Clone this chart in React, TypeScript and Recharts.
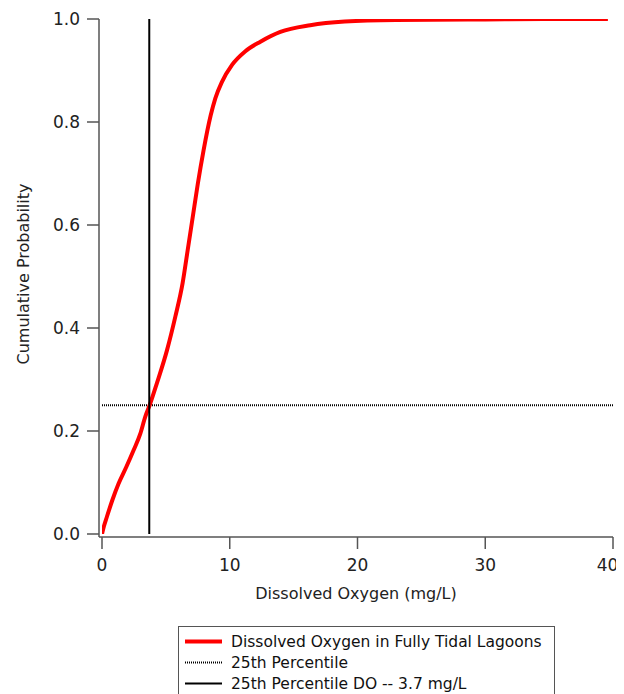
import React from 'react';
import { ComposedChart, Line, XAxis, YAxis, Legend, Label } from 'recharts';

// Cumulative distribution of dissolved oxygen (mg/L) in fully tidal lagoons
const doValues = [0, 0.15, 0.39, 0.8, 1.3, 1.9, 2.48, 3.0, 3.39, 3.73, 4.3, 5.09, 5.74, 6.31, 6.7, 7.1, 7.5, 7.95, 8.5, 8.87, 9.39, 10.18, 11.2, 12.4, 13.96, 16.3, 19, 23, 30, 35, 39.6];
const cumProb = [0, 0.015, 0.034, 0.065, 0.098, 0.13, 0.163, 0.195, 0.228, 0.25, 0.293, 0.357, 0.422, 0.487, 0.55, 0.615, 0.68, 0.745, 0.812, 0.846, 0.878, 0.911, 0.937, 0.956, 0.975, 0.988, 0.995, 0.998, 0.999, 1.0, 1.0];

const percentileLevel = 0.25;
const percentileDO = 3.7;
const xRange = [0, 40];
const xTicks = [0, 10, 20, 30, 40];
const yTicks = [0, 0.2, 0.4, 0.6, 0.8, 1.0];

const seriesNames = [
  'Dissolved Oxygen in Fully Tidal Lagoons',
  '25th Percentile',
  '25th Percentile DO -- 3.7 mg/L',
];

const cdfData = doValues.map((x, i) => ({ x, p: cumProb[i] }));
const hLineData = xRange.map((x) => ({ x, p: percentileLevel }));
const vLineData = [0, 1].map((p) => ({ x: percentileDO, p }));

const FONT = '"DejaVu Sans", Verdana, sans-serif';

const legendStyles = [
  { color: '#ff0000', width: 4, dash: undefined as string | undefined },
  { color: '#000000', width: 2, dash: '1 1' },
  { color: '#000000', width: 2, dash: undefined as string | undefined },
];

const renderLegend = () => (
  <div
    style={{
      width: 377,
      height: 72,
      border: '1px solid #555',
      boxSizing: 'border-box',
      background: '#fff',
      fontFamily: FONT,
      fontSize: 15.5,
      color: '#111',
      paddingTop: 4,
    }}
  >
    {seriesNames.map((name, i) => (
      <div key={name} style={{ display: 'flex', alignItems: 'center', height: 21 }}>
        <svg width={52} height={21} style={{ flex: 'none' }}>
          <line
            x1={6}
            x2={43}
            y1={10.5}
            y2={10.5}
            stroke={legendStyles[i].color}
            strokeWidth={legendStyles[i].width}
            strokeDasharray={legendStyles[i].dash}
          />
        </svg>
        <span style={{ whiteSpace: 'nowrap' }}>{name}</span>
      </div>
    ))}
  </div>
);

export default function App() {
  return (
    <div style={{ width: 608, height: 686, fontFamily: FONT }}>
      <style>{'html{overflow:hidden;} .recharts-surface{overflow:visible;} .recharts-wrapper{overflow:visible;}'}</style>
      <ComposedChart
        width={608}
        height={686}
        margin={{ top: 11, right: 3, left: 0, bottom: 95 }}
      >
        <XAxis
          dataKey="x"
          type="number"
          domain={xRange}
          ticks={xTicks}
          allowDataOverflow
          padding={{ left: 3, right: 0 }}
          height={62}
          tickSize={12}
          tickMargin={10}
          stroke="#555"
          strokeWidth={1.5}
          tick={{ fill: '#222', fontSize: 17, fontFamily: FONT }}
          tickLine={{ stroke: '#555', strokeWidth: 1.5 }}
        >
          <Label
            value="Dissolved Oxygen (mg/L)"
            position="insideBottom"
            offset={0}
            style={{ fill: '#222', fontSize: 16, fontFamily: FONT }}
          />
        </XAxis>
        <YAxis
          type="number"
          domain={[0, 1]}
          ticks={yTicks}
          allowDataOverflow
          padding={{ top: 0, bottom: 3 }}
          width={91}
          tickSize={12}
          tickMargin={7}
          stroke="#555"
          strokeWidth={1.5}
          tickFormatter={(v: number) => v.toFixed(1)}
          tick={{ fill: '#222', fontSize: 17, fontFamily: FONT }}
          tickLine={{ stroke: '#555', strokeWidth: 1.5 }}
        >
          <Label
            value="Cumulative Probability"
            angle={-90}
            position="center"
            dx={-30}
            dy={-4}
            style={{ fill: '#222', fontSize: 16, fontFamily: FONT, textAnchor: 'middle' }}
          />
        </YAxis>
        <Legend
          verticalAlign="middle"
          align="center"
          layout="horizontal"
          content={renderLegend}
          wrapperStyle={{ left: 170, top: 618, width: 377 }}
        />
        <Line
          data={hLineData}
          dataKey="p"
          name={seriesNames[1]}
          stroke="#000"
          strokeWidth={2}
          strokeDasharray="1 1"
          dot={false}
          activeDot={false}
          isAnimationActive={false}
        />
        <Line
          data={cdfData}
          dataKey="p"
          name={seriesNames[0]}
          type="monotone"
          stroke="#ff0000"
          strokeWidth={4}
          dot={false}
          activeDot={false}
          isAnimationActive={false}
        />
        <Line
          data={vLineData}
          dataKey="p"
          name={seriesNames[2]}
          stroke="#000"
          strokeWidth={2}
          dot={false}
          activeDot={false}
          isAnimationActive={false}
        />
      </ComposedChart>
    </div>
  );
}
